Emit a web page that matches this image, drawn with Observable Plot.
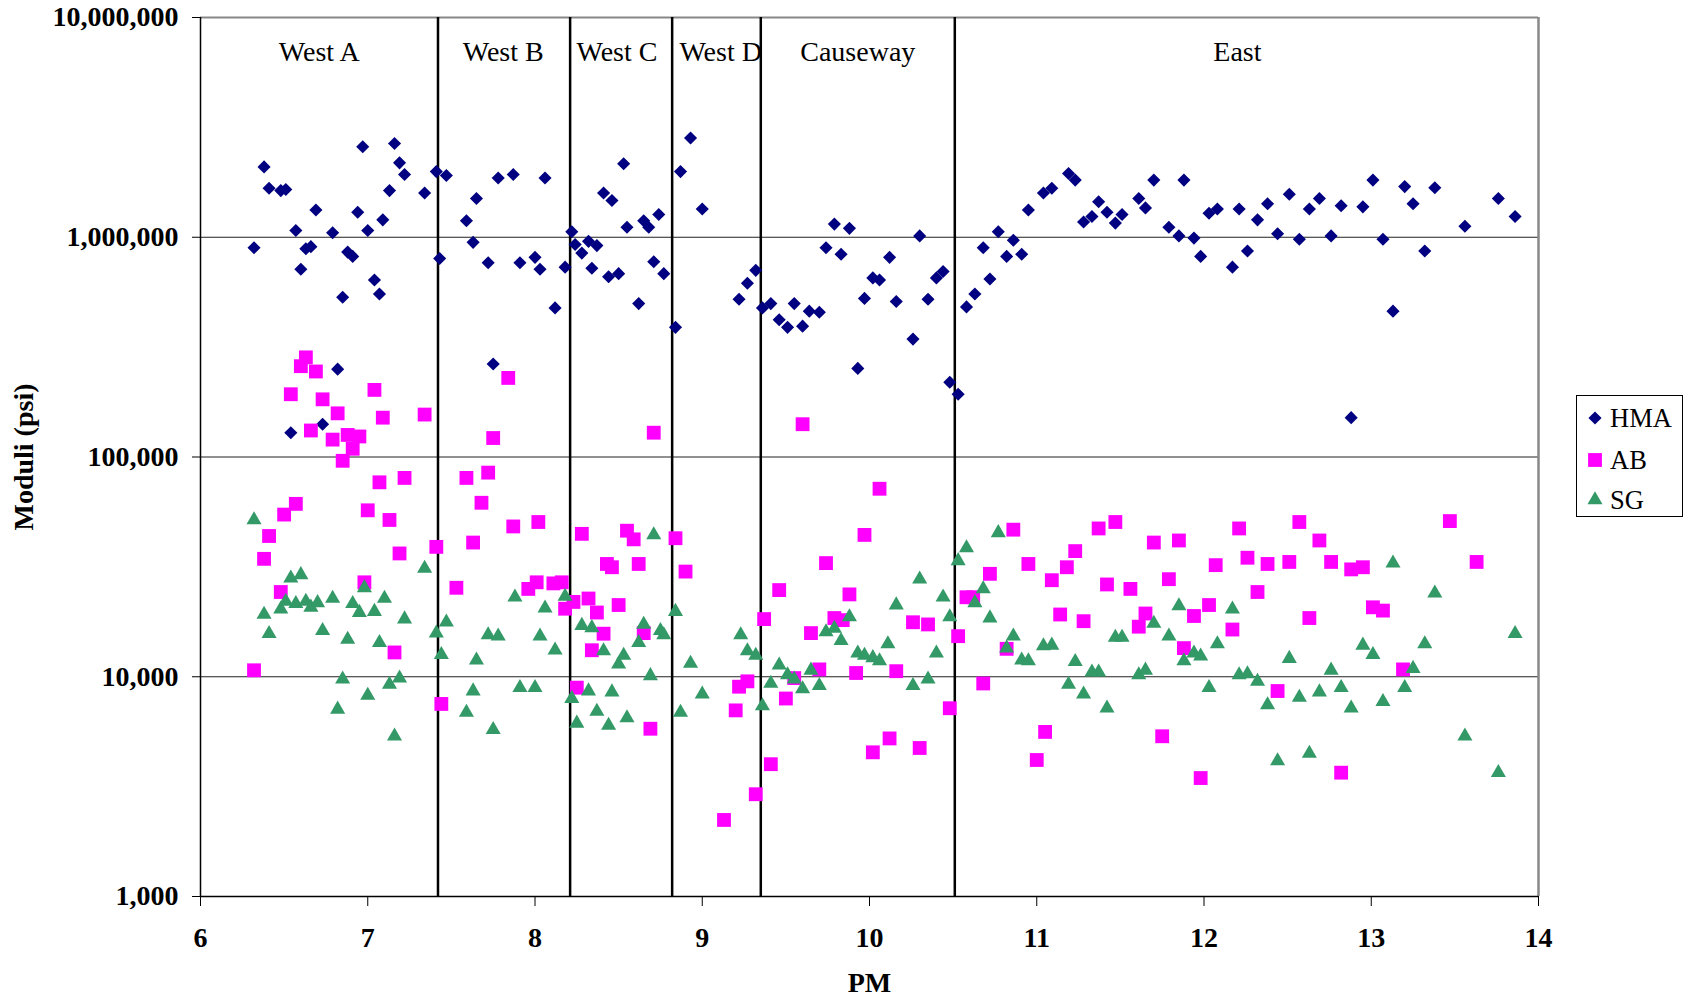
<!DOCTYPE html>
<html><head><meta charset="utf-8">
<script src="https://cdn.jsdelivr.net/npm/d3@7"></script>
<script src="https://cdn.jsdelivr.net/npm/@observablehq/plot@0.6"></script>
<style>
html,body{margin:0;padding:0;background:#fff;}
#wrap{position:relative;width:1686px;height:1001px;overflow:hidden;}
#legend{position:absolute;left:1576px;top:395px;width:105px;height:120px;border:1.5px solid #000;background:#fff;font-family:"Liberation Serif","Times New Roman",serif;font-size:26.5px;color:#000;}
.lsym{position:absolute;left:8px;width:20px;height:20px;}
.ltxt{position:absolute;left:33px;line-height:30px;height:30px;}
</style></head><body><div id="wrap"></div>
<script>
// ---- axes / layout data ----
const xDomain = [6, 14];
const yDomain = [1000, 10000000];
const xTicks = [6, 7, 8, 9, 10, 11, 12, 13, 14];
const yTicks = [1000, 10000, 100000, 1000000, 10000000];
const yGrid = [10000, 100000, 1000000];
const sectionBounds = [7.42, 8.21, 8.82, 9.35, 10.51];
const sectionNames = ["West A", "West B", "West C", "West D", "Causeway", "East"];
const sectionLabelPM = [6.71, 7.81, 8.49, 9.11, 9.93, 12.2];
const seriesNames = ["HMA", "AB", "SG"];

// ---- HMA ----
const hmaPM = [
 6.32,6.38,6.41,6.48,6.51,6.54,6.57,6.60,6.63,6.66,
 6.69,6.73,6.79,6.82,6.85,6.88,6.91,6.94,6.97,7.00,
 7.04,7.07,7.09,7.13,7.16,7.19,7.22,7.34,7.41,7.43,
 7.47,7.59,7.63,7.65,7.72,7.75,7.78,7.87,7.91,8.00,
 8.03,8.06,8.12,8.18,8.22,8.24,8.28,8.32,8.34,8.37,
 8.41,8.44,8.46,8.50,8.53,8.55,8.62,8.65,8.68,8.71,
 8.74,8.77,8.84,8.87,8.93,9.00,9.22,9.27,9.32,9.36,
 9.41,9.46,9.51,9.55,9.60,9.64,9.70,9.74,9.79,9.83,
 9.88,9.93,9.97,10.02,10.06,10.12,10.16,10.26,10.30,10.35,
 10.40,10.44,10.48,10.53,10.58,10.63,10.68,10.72,10.77,10.82,
 10.86,10.91,10.95,11.04,11.09,11.19,11.23,11.28,11.33,11.37,
 11.42,11.47,11.51,11.61,11.65,11.70,11.79,11.85,11.88,11.94,
 11.98,12.03,12.08,12.17,12.21,12.26,12.32,12.38,12.44,12.51,
 12.57,12.63,12.69,12.76,12.82,12.88,12.95,13.01,13.07,13.13,
 13.20,13.25,13.32,13.38,13.56,13.76,13.86
];
const hmaVal = [
 896000,2090000,1670000,1630000,1650000,129000,1073000,715000,886000,906000,
 1330000,141000,1049000,251000,533000,856000,818000,1300000,2580000,1073000,
 639000,552000,1200000,1630000,2670000,2180000,1930000,1590000,1990000,800000,
 1910000,1188000,948000,1500000,765000,265000,1860000,1930000,765000,810000,
 715000,1860000,477000,731000,1060000,927000,847000,958000,723000,916000,
 1590000,661000,1470000,683000,2160000,1110000,499000,1188000,1110000,774000,
 1270000,683000,389000,1990000,2830000,1345000,522000,618000,707000,477000,
 499000,421000,389000,499000,394000,461000,456000,896000,1148000,837000,
 1098000,253000,527000,653000,639000,810000,510000,344000,1014000,522000,
 653000,699000,219000,193000,482000,552000,896000,646000,1060000,818000,
 969000,837000,1330000,1590000,1670000,1950000,1820000,1174000,1242000,1450000,
 1300000,1160000,1270000,1500000,1360000,1820000,1110000,1014000,1820000,991000,
 818000,1285000,1345000,731000,1345000,866000,1200000,1420000,1037000,1570000,
 980000,1345000,1500000,1014000,1390000,151000,1375000,1820000,980000,461000,
 1700000,1420000,866000,1680000,1122000,1500000,1242000
];

// ---- AB ----
const abPM = [
 6.32,6.38,6.41,6.48,6.50,6.54,6.57,6.60,6.63,6.66,
 6.69,6.73,6.79,6.82,6.85,6.88,6.91,6.95,6.98,7.00,
 7.04,7.07,7.09,7.13,7.16,7.19,7.22,7.34,7.41,7.44,
 7.53,7.59,7.63,7.68,7.72,7.75,7.84,7.87,7.96,8.01,
 8.02,8.11,8.16,8.18,8.23,8.25,8.28,8.32,8.34,8.37,
 8.41,8.43,8.46,8.50,8.55,8.59,8.62,8.65,8.69,8.71,
 8.84,8.90,9.13,9.20,9.22,9.27,9.32,9.37,9.41,9.46,
 9.50,9.55,9.60,9.65,9.70,9.74,9.79,9.84,9.88,9.92,
 9.97,10.02,10.06,10.12,10.16,10.26,10.30,10.35,10.48,10.53,
 10.58,10.62,10.68,10.72,10.82,10.86,10.95,11.00,11.05,11.09,
 11.14,11.18,11.23,11.28,11.37,11.42,11.47,11.56,11.61,11.65,
 11.70,11.75,11.79,11.85,11.88,11.94,11.98,12.03,12.07,12.17,
 12.21,12.26,12.32,12.38,12.44,12.51,12.57,12.63,12.69,12.76,
 12.82,12.88,12.95,13.01,13.07,13.19,13.47,13.63
];
const abVal = [
 10700,34400,43700,24300,54700,193000,61200,259000,284000,132000,
 245000,183000,120000,158000,96100,126000,109000,124000,26900,57200,
 202000,76700,151000,51700,12900,36400,80300,156000,39000,7520,
 25400,80300,40800,61900,84900,122000,229000,48300,25100,26900,
 50600,26600,26900,20400,21900,8920,44700,22700,13200,19600,
 15700,32600,31500,21200,46200,42200,32600,15800,5800,129000,
 42700,30100,2230,7030,9010,9530,2920,18300,4000,24800,
 7960,9860,141000,15800,10800,32900,18500,18100,23700,10400,
 44200,4530,71700,5240,10600,17700,4740,17300,7190,15300,
 23000,23000,9320,29400,13400,46700,32600,4180,5610,27500,
 19200,31500,37300,17900,47300,26300,50600,25100,16900,19400,
 40800,5360,27800,41700,13500,18900,3460,21200,32200,16400,
 47300,34800,24300,32600,8610,33300,50600,18500,41700,33300,
 3660,30800,31500,20700,20000,10800,51100,33300
];

// ---- SG ----
const sgPM = [
 6.32,6.38,6.41,6.48,6.51,6.54,6.57,6.60,6.63,6.66,
 6.70,6.73,6.79,6.82,6.85,6.88,6.91,6.95,6.98,7.00,
 7.04,7.07,7.10,7.13,7.16,7.19,7.22,7.34,7.41,7.44,
 7.47,7.59,7.63,7.65,7.72,7.75,7.78,7.88,7.91,8.00,
 8.03,8.06,8.12,8.18,8.22,8.25,8.28,8.32,8.34,8.37,
 8.41,8.44,8.46,8.50,8.53,8.55,8.62,8.65,8.69,8.71,
 8.75,8.77,8.84,8.87,8.93,9.00,9.23,9.27,9.32,9.36,
 9.41,9.46,9.51,9.55,9.60,9.65,9.70,9.74,9.79,9.83,
 9.88,9.93,9.97,10.02,10.06,10.11,10.16,10.26,10.30,10.35,
 10.40,10.44,10.48,10.53,10.58,10.63,10.68,10.72,10.77,10.82,
 10.86,10.91,10.95,11.04,11.09,11.19,11.23,11.28,11.33,11.37,
 11.42,11.47,11.51,11.61,11.65,11.70,11.79,11.85,11.88,11.94,
 11.98,12.03,12.08,12.17,12.21,12.26,12.32,12.38,12.44,12.51,
 12.57,12.63,12.69,12.76,12.82,12.88,12.95,13.01,13.07,13.13,
 13.20,13.25,13.32,13.38,13.56,13.76,13.86
];
const sgVal = [
 51700,19200,15700,20300,22000,28100,21500,29100,22000,20700,
 21700,16200,22700,7110,9750,14800,21500,19600,25400,8230,
 19800,14300,22700,9220,5360,9860,18300,31100,15800,12600,
 17700,6880,8610,11900,15500,5740,15300,23000,8910,8910,
 15300,20500,13200,23200,7960,6140,17100,8610,16700,6950,
 13100,6000,8520,11400,12500,6500,14300,17300,10100,44200,
 16200,15500,19800,6880,11500,8330,15500,13100,12500,7360,
 9320,11300,10200,9750,8810,10700,9110,16000,16600,14600,
 18700,12800,12500,12200,11800,14100,21200,9110,27800,9750,
 12800,23000,18700,33700,38600,21700,25100,18500,45200,13500,
 15300,11900,11800,13800,13900,9220,11700,8330,10500,10500,
 7190,15100,15100,10200,10700,17500,15300,21000,11800,12800,
 12400,8910,14100,20300,10200,10300,9530,7440,4140,12100,
 8050,4480,8520,10700,8910,7190,13900,12600,7700,32900,
 8910,10900,14100,24000,5360,3660,15700
];

const colors = {HMA: "#000080", AB: "#FF00FF", SG: "#339966"};
const symbols = {HMA: "diamond2", AB: "square", SG: "triangle"};
const radii = {HMA: 5.9, AB: 7.8, SG: 5.6};

const chart = Plot.plot({
  width: 1686,
  height: 1001,
  marginLeft: 200,
  marginRight: 148,
  marginTop: 17,
  marginBottom: 105,
  style: {
    fontFamily: "'Liberation Serif','Times New Roman',serif",
    fontSize: "28px",
    fontWeight: "bold",
    color: "#000",
    background: "#fff",
    overflow: "visible"
  },
  x: {domain: xDomain, ticks: xTicks, tickSize: 10, tickPadding: 21, label: null},
  y: {type: "log", domain: yDomain, ticks: yTicks, tickFormat: d3.format(","), tickSize: 8, tickPadding: 14, label: null},
  marks: [
    Plot.ruleY(yGrid, {stroke: "#222", strokeWidth: 1}),
    Plot.ruleY([yDomain[1]], {stroke: "#888", strokeWidth: 2}),
    Plot.ruleX([xDomain[1]], {stroke: "#888", strokeWidth: 2.5}),
    Plot.ruleX(sectionBounds, {stroke: "#000", strokeWidth: 2.5}),
    Plot.ruleX([xDomain[0]], {stroke: "#000", strokeWidth: 1.5}),
    Plot.ruleY([yDomain[0]], {stroke: "#000", strokeWidth: 1.5}),
    Plot.text(sectionNames, {x: sectionLabelPM, text: d => d, frameAnchor: "top", lineAnchor: "middle", dy: 35, fontSize: 28, fontWeight: "normal"}),
    Plot.dot(hmaPM, {x: hmaPM, y: hmaVal, symbol: symbols.HMA, fill: colors.HMA, r: radii.HMA}),
    Plot.dot(abPM, {x: abPM, y: abVal, symbol: symbols.AB, fill: colors.AB, r: radii.AB}),
    Plot.dot(sgPM, {x: sgPM, y: sgVal, symbol: symbols.SG, fill: colors.SG, r: radii.SG}),
    Plot.text(["Moduli (psi)"], {text: d => d, frameAnchor: "left", textAnchor: "middle", lineAnchor: "middle", dx: -176, rotate: -90}),
    Plot.text(["PM"], {text: d => d, frameAnchor: "bottom", textAnchor: "middle", lineAnchor: "middle", dy: 87})
  ]
});

const wrap = document.getElementById("wrap");
wrap.appendChild(chart);

// legend
const legend = document.createElement("div");
legend.id = "legend";
const symMap = {diamond2: d3.symbolDiamond2, square: d3.symbolSquare, triangle: d3.symbolTriangle};
const rowY = [22, 64, 104];
seriesNames.forEach((name, i) => {
  const r = radii[name];
  const path = d3.symbol(symMap[symbols[name]], r * r * Math.PI)();
  const s = document.createElementNS("http://www.w3.org/2000/svg", "svg");
  s.setAttribute("class", "lsym");
  s.setAttribute("viewBox", "-10 -10 20 20");
  s.style.top = (rowY[i] - 10) + "px";
  const p = document.createElementNS("http://www.w3.org/2000/svg", "path");
  p.setAttribute("d", path);
  p.setAttribute("fill", colors[name]);
  s.appendChild(p);
  legend.appendChild(s);
  const t = document.createElement("div");
  t.className = "ltxt";
  t.style.top = (rowY[i] - 15) + "px";
  t.textContent = name;
  legend.appendChild(t);
});
wrap.appendChild(legend);
</script></body></html>
